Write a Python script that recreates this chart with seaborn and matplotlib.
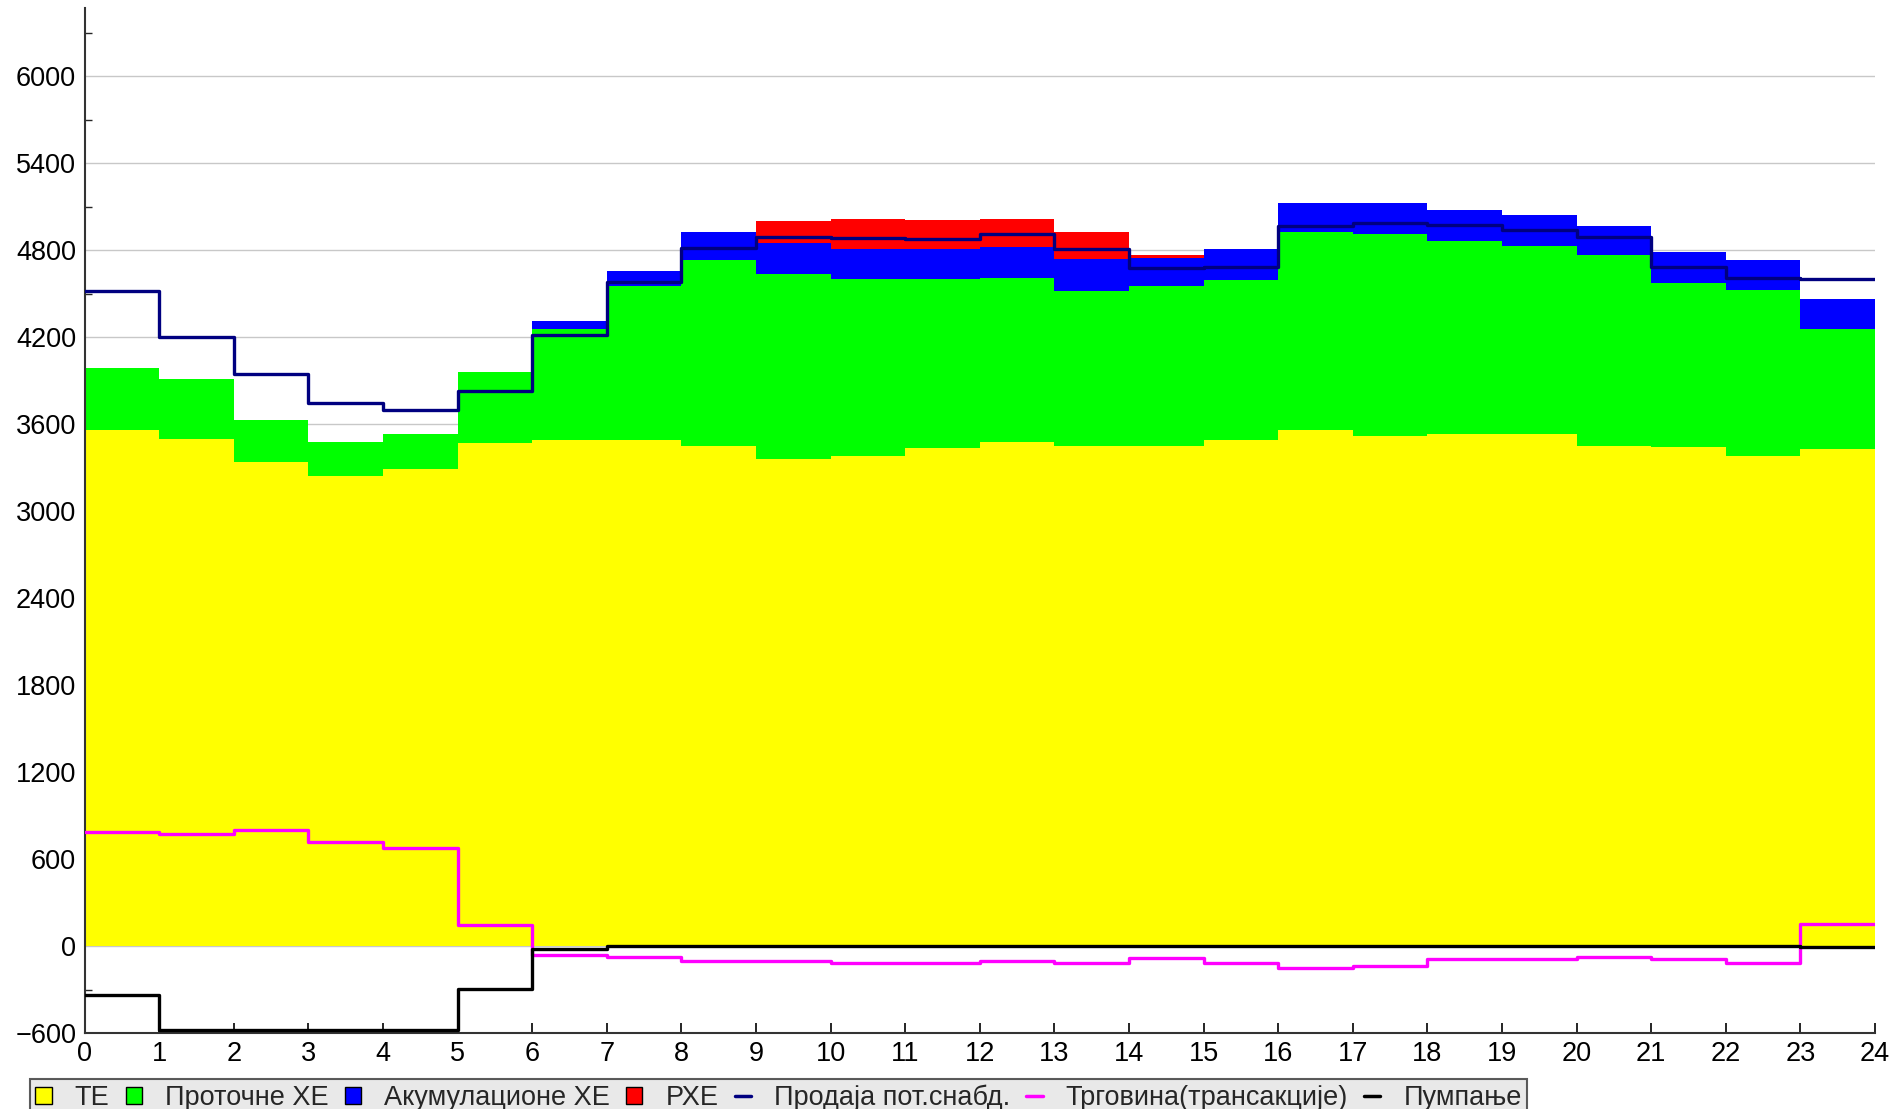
import numpy as np
import seaborn as sns
import matplotlib.pyplot as plt
from matplotlib.patches import Patch
from matplotlib.lines import Line2D
from matplotlib.ticker import MultipleLocator

hours = list(range(25))

# hourly values (MW), one per hour 0..23
te = [3558, 3494, 3340, 3245, 3287, 3471, 3489, 3489, 3452, 3361, 3383, 3437,
      3478, 3452, 3452, 3489, 3556, 3518, 3533, 3533, 3452, 3441, 3379, 3425]
protocne = [426, 419, 287, 233, 246, 490, 769, 1066, 1278, 1277, 1216, 1162,
            1132, 1066, 1101, 1105, 1370, 1396, 1330, 1296, 1315, 1134, 1144, 828]
akumulacione = [0, 0, 0, 0, 0, 0, 53, 101, 196, 214, 211, 211,
                212, 219, 195, 216, 202, 214, 212, 214, 200, 213, 209, 212]
rhe = [0, 0, 0, 0, 0, 0, 0, 0, 0, 148, 203, 195,
       191, 190, 16, 0, 0, 0, 0, 0, 0, 0, 0, 0]
prodaja = [4520, 4200, 3943, 3747, 3694, 3827, 4212, 4580, 4817, 4890, 4886, 4875,
           4910, 4806, 4675, 4686, 4967, 4985, 4972, 4937, 4893, 4686, 4610, 4599]
trgovina = [789, 771, 799, 720, 679, 143, -60, -74, -104, -104, -120, -120,
            -104, -120, -85, -120, -154, -138, -92, -92, -74, -92, -115, 152]
pumpanje = [-338, -580, -580, -580, -580, -295, -23, 0, 0, 0, 0, 0,
            0, 0, 0, 0, 0, 0, 0, 0, 0, 0, 0, -10]

labels = ["ТЕ", "Проточне ХЕ", "Акумулационе ХЕ", "РХЕ",
          "Продаја пот.снабд.", "Трговина(трансакције)", "Пумпање"]
fill_colors = ["#ffff00", "#00ff00", "#0000ff", "#ff0000"]
line_colors = ["#000080", "#ff00ff", "#000000"]

sns.set_theme(style="white")
plt.rcParams["font.family"] = ["Liberation Sans", "DejaVu Sans"]


def ext(v):
    # repeat last hour so the step reaches hour 24
    return np.append(v, v[-1])


fig = plt.figure(figsize=(18.95, 11.09), dpi=100)
ax = fig.add_axes([0.0446, 0.0685, 0.9448, 0.9243])

base = np.zeros(24)
for vals, col in zip([te, protocne, akumulacione, rhe], fill_colors):
    top = base + np.array(vals)
    ax.fill_between(hours, ext(base), ext(top), step="post", color=col, lw=0, zorder=2)
    base = top

for vals, col in zip([prodaja, trgovina, pumpanje], line_colors):
    sns.lineplot(x=hours, y=ext(vals), ax=ax, color=col, lw=2.4,
                 drawstyle="steps-post", zorder=3)

ax.set_xlim(0, 24)
ax.set_ylim(-600, 6470)
ax.set_xticks(range(25))
ax.set_yticks(np.arange(-600, 6001, 600))
ax.yaxis.set_minor_locator(MultipleLocator(300))
ax.grid(axis="y", color="#c8c8c8", lw=1)
ax.set_axisbelow(True)
ax.tick_params(axis="both", which="major", direction="in", length=7, width=1.2,
               labelsize=19.5, colors="black", pad=6, left=False)
ax.tick_params(axis="y", which="minor", direction="in", length=5, width=1, left=True)
ax.tick_params(axis="x", which="major", bottom=True)
for s in ["top", "right"]:
    ax.spines[s].set_visible(False)
for s in ["left", "bottom"]:
    ax.spines[s].set_color("#333333")
    ax.spines[s].set_linewidth(1.5)

handles = [Patch(facecolor=c, edgecolor="black", lw=1) for c in fill_colors]
handles += [Line2D([], [], color=c, lw=2.5) for c in line_colors]
leg = fig.legend(handles, labels, loc="upper left", bbox_to_anchor=(0.0158, 0.027),
                 ncol=7, fontsize=19.5, frameon=True, fancybox=False,
                 handlelength=0.6, handleheight=0.6, handletextpad=0.85,
                 columnspacing=0.6, borderpad=0.2, borderaxespad=0)
leg.get_frame().set_facecolor("#e4e4e4")
leg.get_frame().set_edgecolor("#333333")
leg.get_frame().set_linewidth(1.5)

fig.savefig("out.png", dpi=100)
